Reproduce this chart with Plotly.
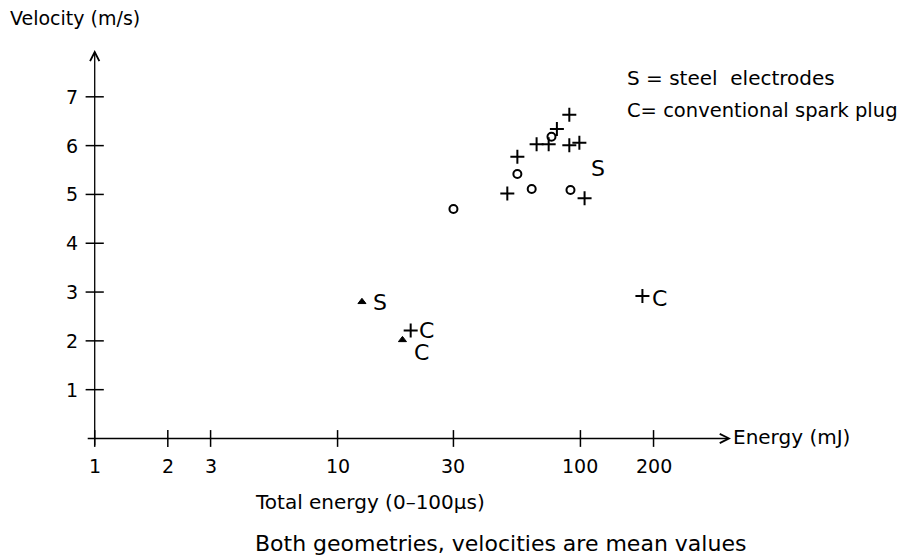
import numpy as np
import plotly.graph_objects as go

# ---- data ----
plus_energy = [90, 80, 66, 74, 90, 99, 55, 50, 104, 20, 180]
plus_velocity = [6.63, 6.34, 6.03, 6.03, 6.01, 6.06, 5.77, 5.02, 4.92, 2.21, 2.92]
circle_energy = [76, 55, 63, 91, 30]
circle_velocity = [6.18, 5.42, 5.11, 5.09, 4.70]
triangle_energy = [12.6, 18.5]
triangle_velocity = [2.80, 2.02]

x_tick_values = [1, 2, 3, 10, 30, 100, 200]
x_tick_labels = ["1", "2", "3", "10", "30", "100", "200"]
y_tick_values = [1, 2, 3, 4, 5, 6, 7]
y_tick_labels = ["1", "2", "3", "4", "5", "6", "7"]

point_labels = ["S", "S", "C", "C", "C"]
label_energy = [118, 14.9, 23.2, 22.2, 212]
label_velocity = [5.53, 2.78, 2.22, 1.76, 2.86]

FONT = "DejaVu Sans"
W, H = 903, 560
L, R, T, B = 85, 172, 48, 102
PW, PH = W - L - R, H - T - B

def px_x(px):
    return (px - L) / PW

def px_y(py):
    return (H - B - py) / PH

fig = go.Figure()

mk_line = dict(color="black", width=2)
fig.add_trace(go.Scatter(x=plus_energy, y=plus_velocity, mode="markers",
                         marker=dict(symbol="cross-thin", size=10, line=mk_line, color="black"),
                         showlegend=False))
fig.add_trace(go.Scatter(x=circle_energy, y=circle_velocity, mode="markers",
                         marker=dict(symbol="circle-open", size=8, line=mk_line, color="black"),
                         showlegend=False))
fig.add_trace(go.Scatter(x=triangle_energy, y=triangle_velocity, mode="markers",
                         marker=dict(symbol="triangle-up", size=7, color="black",
                                     line=dict(color="black", width=1)),
                         showlegend=False))

# tick marks crossing the axes
fig.add_trace(go.Scatter(x=x_tick_values, y=[0] * len(x_tick_values), mode="markers",
                         marker=dict(symbol="line-ns-open", size=12, color="black",
                                     line=dict(color="black", width=1.5)),
                         showlegend=False, hoverinfo="skip"))
fig.add_trace(go.Scatter(x=[1] * len(y_tick_values), y=y_tick_values, mode="markers",
                         marker=dict(symbol="line-ew-open", size=13, color="black",
                                     line=dict(color="black", width=1.5)),
                         showlegend=False, hoverinfo="skip"))

ann = []
# axes with arrows
ann.append(dict(x=2.62, y=0, ax=-0.035, ay=0, xref="x", yref="y", axref="x", ayref="y",
                text="", showarrow=True, arrowhead=5, arrowsize=1.4, arrowwidth=1.3,
                arrowcolor="black", standoff=0))
ann.append(dict(x=0, y=7.96, ax=0, ay=-0.17, xref="x", yref="y", axref="x", ayref="y",
                text="", showarrow=True, arrowhead=5, arrowsize=1.4, arrowwidth=1.3,
                arrowcolor="black", standoff=0))

tick_font = dict(family=FONT, size=19, color="black")
for v, t in zip(x_tick_values, x_tick_labels):
    ann.append(dict(x=np.log10(v), y=0, xref="x", yref="y", text=t, showarrow=False,
                    yshift=-28, font=tick_font))
for v, t in zip(y_tick_values, y_tick_labels):
    ann.append(dict(x=0, y=v, xref="x", yref="y", text=t, showarrow=False,
                    xshift=-23, font=tick_font))

lab_font = dict(family=FONT, size=22, color="black")
for t, xe, yv in zip(point_labels, label_energy, label_velocity):
    ann.append(dict(x=np.log10(xe), y=yv, xref="x", yref="y", text=t, showarrow=False,
                    font=lab_font))

def txt(size):
    return dict(family=FONT, size=size, color="black")

ann.append(dict(x=px_x(8), y=px_y(18), xref="paper", yref="paper", text="Velocity (m/s)",
                showarrow=False, xanchor="left", yanchor="middle", font=txt(19)))
ann.append(dict(x=px_x(731), y=px_y(437), xref="paper", yref="paper", text="Energy (mJ)",
                showarrow=False, xanchor="left", yanchor="middle", font=txt(20)))
ann.append(dict(x=px_x(625), y=px_y(78), xref="paper", yref="paper", text="S = steel  electrodes",
                showarrow=False, xanchor="left", yanchor="middle", font=txt(20)))
ann.append(dict(x=px_x(625), y=px_y(110), xref="paper", yref="paper",
                text="C= conventional spark plug",
                showarrow=False, xanchor="left", yanchor="middle", font=txt(19.5)))
ann.append(dict(x=px_x(253), y=px_y(502), xref="paper", yref="paper",
                text="Total energy (0–100µs)",
                showarrow=False, xanchor="left", yanchor="middle", font=txt(20)))
ann.append(dict(x=px_x(253), y=px_y(543), xref="paper", yref="paper",
                text="Both geometries, velocities are mean values",
                showarrow=False, xanchor="left", yanchor="middle", font=txt(22)))

fig.update_layout(
    width=W, height=H,
    margin=dict(l=L, r=R, t=T, b=B, pad=0),
    paper_bgcolor="white", plot_bgcolor="white",
    annotations=ann,
    xaxis=dict(type="log", range=[-0.04, 2.62], showgrid=False, zeroline=False,
               showline=False, showticklabels=False, ticks=""),
    yaxis=dict(range=[-0.4, 8.0], showgrid=False, zeroline=False,
               showline=False, showticklabels=False, ticks=""),
    font=dict(family=FONT, color="black"),
)

fig.write_html("out.html")
